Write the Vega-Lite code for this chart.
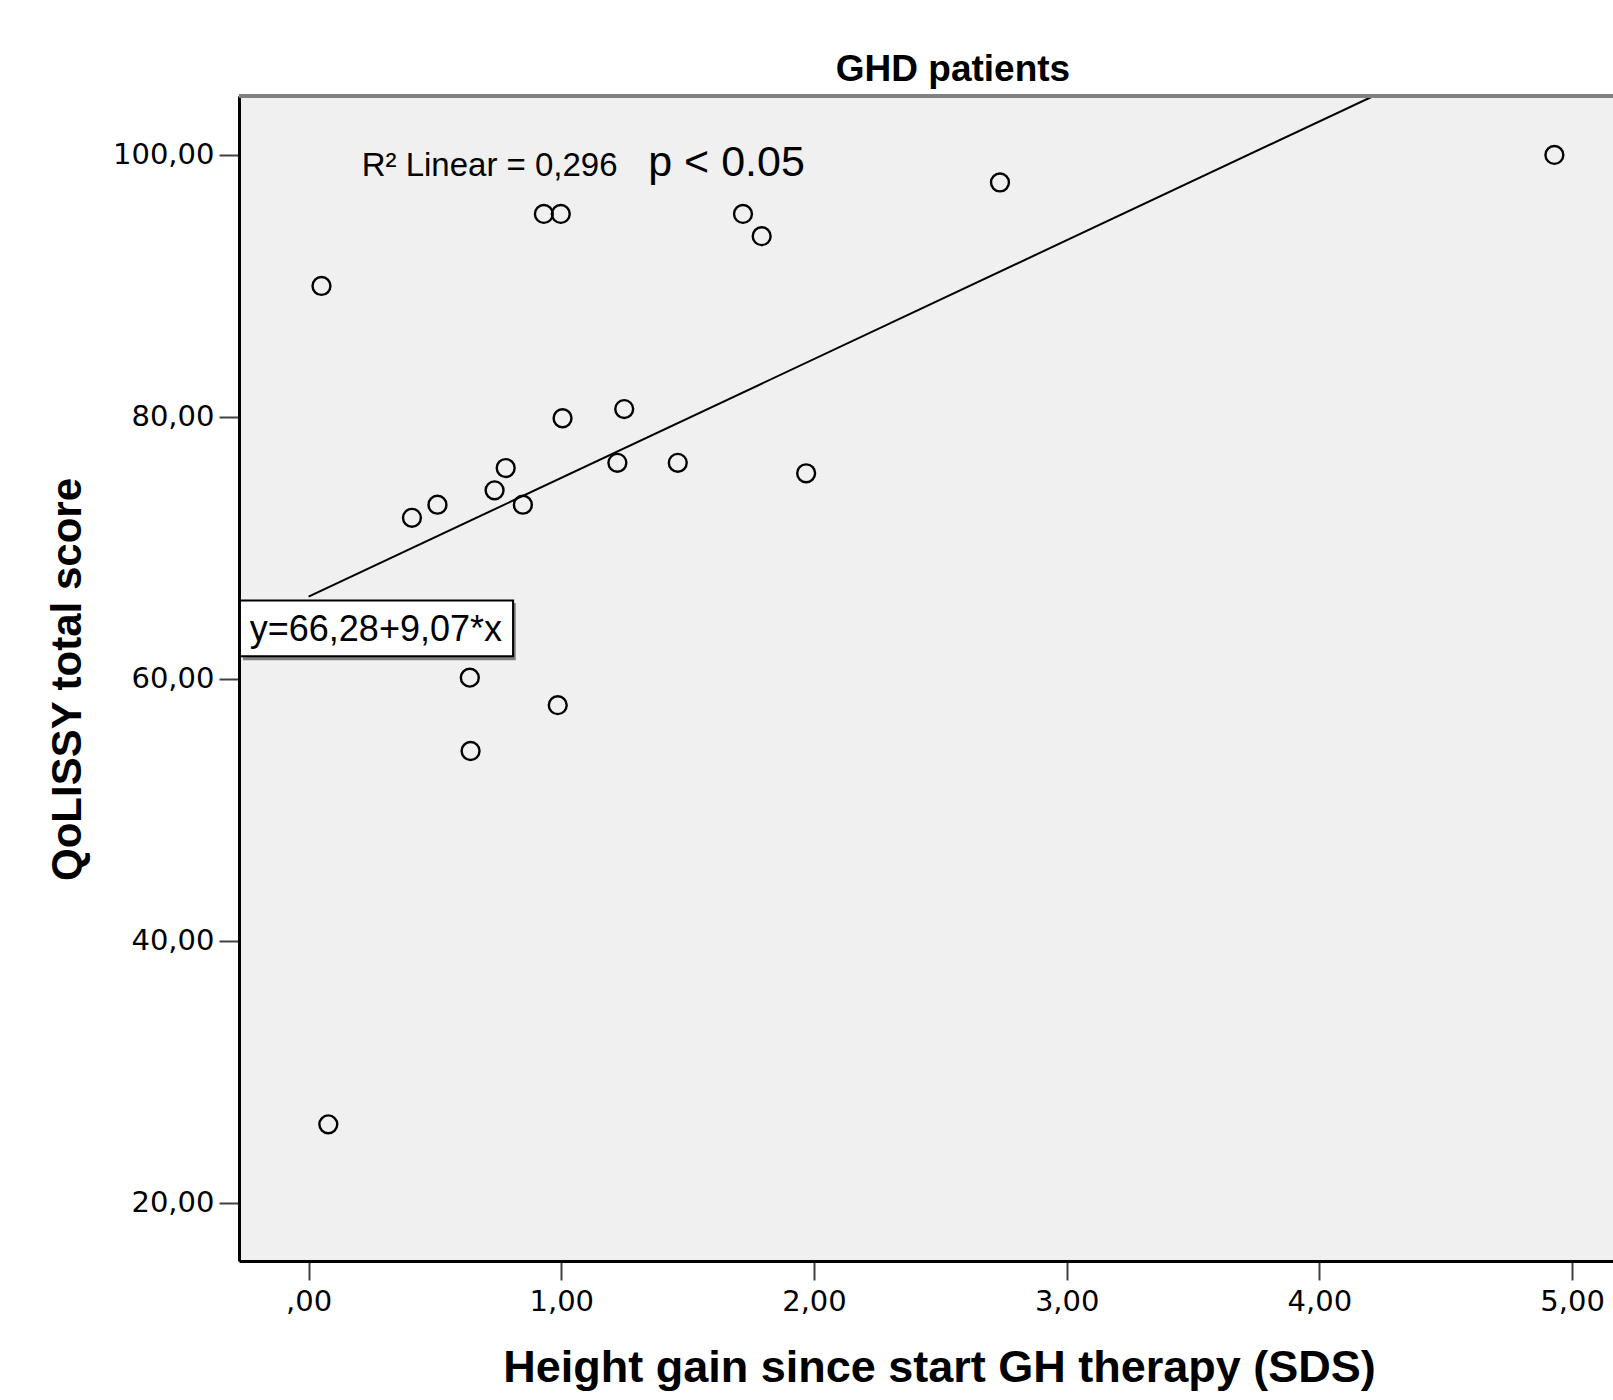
{
  "$schema": "https://vega.github.io/schema/vega-lite/v6.json",
  "autosize": {"type": "none"},
  "padding": {"left": 239, "top": 96, "right": 0, "bottom": 139},
  "width": 1374,
  "height": 1165,
  "background": "white",
  "title": {
    "text": "GHD patients",
    "font": "Liberation Sans",
    "fontSize": 37,
    "fontWeight": "bold",
    "color": "black",
    "anchor": "middle",
    "dx": 27,
    "dy": 30,
    "baseline": "alphabetic",
    "offset": 6
  },
  "datasets": {
    "points": [
      {"x": 0.051, "y": 90.0},
      {"x": 0.078, "y": 26.0},
      {"x": 0.409, "y": 72.3},
      {"x": 0.510, "y": 73.3},
      {"x": 0.638, "y": 60.1},
      {"x": 0.641, "y": 54.5},
      {"x": 0.736, "y": 74.4},
      {"x": 0.780, "y": 76.1},
      {"x": 0.848, "y": 73.3},
      {"x": 0.931, "y": 95.5},
      {"x": 0.998, "y": 95.5},
      {"x": 1.005, "y": 79.9},
      {"x": 0.986, "y": 58.0},
      {"x": 1.222, "y": 76.5},
      {"x": 1.249, "y": 80.6},
      {"x": 1.461, "y": 76.5},
      {"x": 1.719, "y": 95.5},
      {"x": 1.793, "y": 93.8},
      {"x": 1.969, "y": 75.7},
      {"x": 2.736, "y": 97.9},
      {"x": 4.930, "y": 100.0}
    ],
    "fit": [
      {"x": 0.0, "y": 66.28},
      {"x": 4.214, "y": 104.5}
    ],
    "one": [{}]
  },
  "layer": [
    {
      "data": {"name": "fit"},
      "mark": {"type": "line", "color": "black", "strokeWidth": 2, "clip": true},
      "encoding": {
        "x": {
          "field": "x", "type": "quantitative",
          "scale": {"domain": [-0.2754, 5.162], "nice": false, "zero": false},
          "axis": {
            "title": "Height gain since start GH therapy (SDS)",
            "values": [0, 1, 2, 3, 4, 5],
            "labelExpr": "datum.value == 0 ? ',00' : replace(format(datum.value, '.2f'), '.', ',')",
            "grid": false,
            "domainColor": "black",
            "domainWidth": 3,
            "tickColor": "#404040",
            "tickWidth": 2,
            "tickSize": 19,
            "labelPadding": 7,
            "labelFont": "DejaVu Sans",
            "labelFontSize": 29,
            "labelColor": "black",
            "titleFont": "Liberation Sans",
            "titleFontSize": 45,
            "titleFontWeight": "bold",
            "titleColor": "black",
            "titleX": 700,
            "titleY": 120,
            "titleAlign": "center",
            "titleBaseline": "alphabetic"
          }
        },
        "y": {
          "field": "y", "type": "quantitative",
          "scale": {"domain": [15.57, 104.5], "nice": false, "zero": false},
          "axis": {
            "title": "QoLISSY total score",
            "values": [20, 40, 60, 80, 100],
            "labelExpr": "replace(format(datum.value, '.2f'), '.', ',')",
            "grid": false,
            "domainColor": "black",
            "domainWidth": 3,
            "tickColor": "#404040",
            "tickWidth": 2,
            "tickSize": 20,
            "labelPadding": 5,
            "labelFont": "DejaVu Sans",
            "labelFontSize": 29,
            "labelColor": "black",
            "titleFont": "Liberation Sans",
            "titleFontSize": 42,
            "titleFontWeight": "bold",
            "titleColor": "black",
            "titleAngle": 270,
            "titleX": -159,
            "titleY": 583,
            "titleAlign": "center",
            "titleBaseline": "alphabetic"
          }
        }
      }
    },
    {
      "data": {"name": "points"},
      "mark": {"type": "point", "shape": "circle", "filled": false, "stroke": "black", "strokeWidth": 2.4, "size": 320, "opacity": 1},
      "encoding": {
        "x": {"field": "x", "type": "quantitative"},
        "y": {"field": "y", "type": "quantitative"}
      }
    },
    {
      "data": {"name": "one"},
      "mark": {"type": "rule", "stroke": "#808080", "strokeWidth": 4},
      "encoding": {"y": {"datum": 104.5}}
    },
    {
      "data": {"name": "one"},
      "mark": {"type": "rect", "fill": "#808080"},
      "encoding": {
        "x": {"datum": -0.2597}, "x2": {"datum": 0.8199},
        "y": {"datum": 65.80}, "y2": {"datum": 61.43}
      }
    },
    {
      "data": {"name": "one"},
      "mark": {"type": "rect", "fill": "white", "stroke": "black", "strokeWidth": 2},
      "encoding": {
        "x": {"datum": -0.2716}, "x2": {"datum": 0.8092},
        "y": {"datum": 65.99}, "y2": {"datum": 61.73}
      }
    },
    {
      "data": {"name": "one"},
      "mark": {"type": "text", "text": "y=66,28+9,07*x", "font": "Liberation Sans", "fontSize": 36, "align": "left", "baseline": "alphabetic", "color": "black"},
      "encoding": {"x": {"datum": -0.2328}, "y": {"datum": 62.86}}
    },
    {
      "data": {"name": "one"},
      "mark": {"type": "text", "text": "R² Linear = 0,296", "font": "Liberation Sans", "fontSize": 33, "align": "left", "baseline": "alphabetic", "color": "black"},
      "encoding": {"x": {"datum": 0.21}, "y": {"datum": 98.42}}
    },
    {
      "data": {"name": "one"},
      "mark": {"type": "text", "text": "p < 0.05", "font": "Liberation Sans", "fontSize": 43, "align": "left", "baseline": "alphabetic", "color": "black"},
      "encoding": {"x": {"datum": 1.344}, "y": {"datum": 98.42}}
    }
  ],
  "config": {
    "view": {"fill": "#f0f0f0", "stroke": null},
    "axis": {"grid": false}
  }
}
